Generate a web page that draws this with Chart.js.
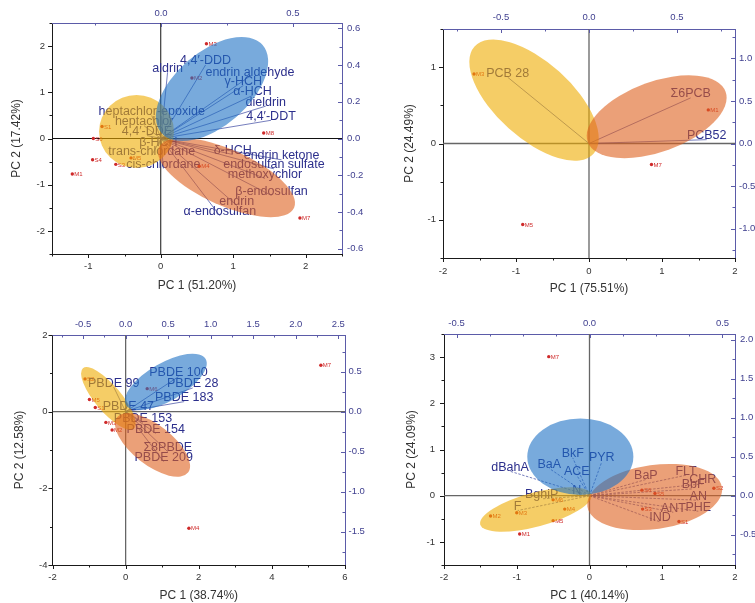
<!DOCTYPE html>
<html lang="en">
<head>
<meta charset="UTF-8">
<title>PCA biplots</title>
<script src="https://cdn.jsdelivr.net/npm/chart.js@4.4.0/dist/chart.umd.min.js"></script>
<style>
  html, body { margin: 0; padding: 0; background: #fff; width: 755px; height: 603px; overflow: hidden; }
  canvas { position: absolute; }
</style>
</head>
<body>
<canvas id="p1" width="378" height="300" style="left:0;top:0"></canvas>
<canvas id="p2" width="400" height="300" style="left:380px;top:0"></canvas>
<canvas id="p3" width="378" height="303" style="left:0;top:300px"></canvas>
<canvas id="p4" width="400" height="303" style="left:380px;top:300px"></canvas>
<script>
// ---------- panel 1 : OCPs ----------
const scoreNames1 = ['M1', 'M2', 'M3', 'M4', 'M5', 'M7', 'M8', 'S1', 'S3', 'S4', 'S6'];
const scoreX1 = [-1.22, 0.43, 0.63, 0.53, -0.41, 1.92, 1.42, -0.81, -0.62, -0.94, -0.93];
const scoreY1 = [-0.77, 1.31, 2.05, -0.60, -0.42, -1.72, 0.12, 0.26, -0.56, -0.46, 0.0];
const loadNames1 = ['aldrin', '4,4′-DDD', 'endrin aldehyde', 'γ-HCH', 'α-HCH', 'dieldrin', '4,4′-DDT',
  'heptachlor-epoxide', 'heptachlor', '4,4′-DDE', 'β-HCH', 'trans-chlordane', 'cis-chlordane',
  'δ-HCH', 'endrin ketone', 'endosulfan sulfate', 'methoxychlor', 'β-endosulfan', 'endrin', 'α-endosulfan'];
const loadX1 = [0.025, 0.169, 0.337, 0.312, 0.347, 0.397, 0.417, -0.035, -0.064, -0.053, -0.010, -0.035, 0.009,
  0.272, 0.457, 0.428, 0.394, 0.419, 0.287, 0.223];
const loadY1 = [0.360, 0.400, 0.339, 0.288, 0.234, 0.176, 0.099, 0.125, 0.069, 0.016, -0.042, -0.091, -0.163,
  -0.087, -0.116, -0.165, -0.217, -0.310, -0.364, -0.420];
// ellipses: [centre x, centre y, semi-axis a (dx, dy), semi-axis b (dx, dy)]
const ellYellow1 = [-0.334, 0.152, 0.517, 0, 0, 0.79];
const ellOrange1 = [0.907, -0.848, 0.932, -0.652, -0.157, -0.554];
const ellBlue1 = [0.707, 1.071, 0.698, 0.952, 0.335, -0.604];
const xTicks1 = [-1, 0, 1, 2];
const yTicks1 = [-2, -1, 0, 1, 2];
const topTicks1 = [0, 0.5];
const rightTicks1 = [-0.6, -0.4, -0.2, 0, 0.2, 0.4, 0.6];

// ---------- panel 2 : PCBs ----------
const scoreNames2 = ['M1', 'M3', 'M5', 'M7'];
const scoreX2 = [1.634, -1.575, -0.908, 0.856];
const scoreY2 = [0.44, 0.91, -1.062, -0.275];
const loadNames2 = ['PCB 28', 'Σ6PCB', 'PCB52'];
const loadX2 = [-0.462, 0.578, 0.669];
const loadY2 = [0.778, 0.536, 0.045];
const ellYellow2 = [-0.753, 0.569, 0.815, -0.702, -0.348, -0.37];
const ellOrange2 = [0.927, 0.35, 0.944, 0.329, 0.164, -0.432];
const xTicks2 = [-2, -1, 0, 1, 2];
const yTicks2 = [-1, 0, 1];
const topTicks2 = [-0.5, 0, 0.5];
const rightTicks2 = [-1.0, -0.5, 0, 0.5, 1.0];

// ---------- panel 3 : PBDEs ----------
const scoreNames3 = ['M7', 'M4', 'S2', 'M5', 'S1', 'M6', 'M3', 'M2'];
const scoreX3 = [5.34, 1.73, -1.11, -0.99, -0.83, 0.59, -0.54, -0.37];
const scoreY3 = [1.21, -3.04, 0.855, 0.318, 0.11, 0.60, -0.28, -0.48];
const loadNames3 = ['PBDE 100', 'PBDE 99', 'PBDE 28', 'PBDE 183', 'PBDE 47', 'PBDE 153', 'PBDE 154', 'Σ8PBDE', 'PBDE 209'];
const loadX3 = [0.621, -0.14, 0.788, 0.688, 0.032, 0.204, 0.354, 0.495, 0.447];
const loadY3 = [0.4375, 0.306, 0.296, 0.125, 0.019, -0.134, -0.273, -0.5, -0.625];
const ellYellow3 = [-0.473, 0.344, 0.695, -0.789, -0.274, -0.219];
const ellOrange3 = [0.736, -0.868, 0.971, -0.722, -0.336, -0.412];
const ellBlue3 = [1.10, 0.776, 1.089, 0.599, 0.26, -0.43];
const xTicks3 = [-2, 0, 2, 4, 6];
const yTicks3 = [-4, -2, 0, 2];
const topTicks3 = [-0.5, 0, 0.5, 1.0, 1.5, 2.0, 2.5];
const rightTicks3 = [-1.5, -1.0, -0.5, 0, 0.5];

// ---------- panel 4 : PAHs ----------
const scoreNames4 = ['M7', 'S2', 'S6', 'S5', 'S3', 'S1', 'M6', 'M4', 'M3', 'M2', 'M5', 'M1'];
const scoreX4 = [-0.56, 1.71, 0.72, 0.90, 0.73, 1.23, -0.50, -0.34, -1.0, -1.36, -0.50, -0.96];
const scoreY4 = [3.01, 0.16, 0.12, 0.05, -0.29, -0.56, -0.09, -0.29, -0.37, -0.44, -0.54, -0.83];
const loadNames4 = ['BkF', 'PYR', 'dBahA', 'BaA', 'ACE', 'N', 'BghiP', 'F',
  'BaP', 'FLT', 'CHR', 'BbF', 'AN', 'PHE', 'ANT', 'IND'];
const loadX4 = [-0.063, 0.046, -0.299, -0.151, -0.048, -0.048, -0.18, -0.27,
  0.212, 0.363, 0.426, 0.39, 0.409, 0.409, 0.315, 0.265];
const loadY4 = [0.486, 0.434, 0.314, 0.349, 0.263, 0.015, -0.04, -0.19,
  0.208, 0.263, 0.153, 0.088, -0.058, -0.199, -0.212, -0.335];
const ellYellow4 = [-0.738, -0.299, 0.764, 0.323, 0.06, -0.355];
const ellOrange4 = [0.896, -0.028, 0.925, 0.206, 0.062, -0.686];
const ellBlue4 = [-0.126, 0.844, 0.729, 0, 0, 0.829];
const xTicks4 = [-2, -1, 0, 1, 2];
const yTicks4 = [-1, 0, 1, 2, 3];
const topTicks4 = [-0.5, 0, 0.5];
const rightTicks4 = [-0.5, 0, 0.5, 1.0, 1.5, 2.0];

Chart.defaults.font.family = '"Liberation Sans", Arial, sans-serif';

const YELLOW = 'rgba(238,172,0,0.6)';
const ORANGE = 'rgba(222,97,30,0.6)';
const BLUE = 'rgba(30,113,197,0.6)';
const DARK = '#1a1a1a';
const PURPLE = '#5b5ba8';
const RED = '#cf2a2a';
const TEXTBLUE = '#2c2f8c';

const pts = (xs, ys) => xs.map((v, i) => ({ x: v, y: ys[i] }));

function axis(pos, min, max, ticks, fmt, side, pad, size, title) {
  const blue = side === 'blue';
  return {
    type: 'linear', position: pos, min: min, max: max, bounds: 'data',
    grid: { display: false, drawTicks: false, tickLength: 0 },
    border: { display: true, color: blue ? PURPLE : DARK, width: 1 },
    ticks: {
      color: blue ? '#3f3f8f' : '#333', font: { size: 9.5 }, padding: pad,
      autoSkip: false, maxRotation: 0, minRotation: 0, callback: fmt
    },
    afterBuildTicks: s => { s.ticks = ticks.map(v => ({ value: v })); },
    afterFit: s => { if (s.isHorizontal()) s.height = size; else s.width = size; },
    title: title || { display: false }
  };
}

function biplot(id, p) {
  const ellipse = (ctx, xs, ys, e, color) => {
    const cx = xs.getPixelForValue(e[0]), cy = ys.getPixelForValue(e[1]);
    const ux = xs.getPixelForValue(e[0] + e[2]) - cx, uy = ys.getPixelForValue(e[1] + e[3]) - cy;
    const vx = xs.getPixelForValue(e[0] + e[4]) - cx, vy = ys.getPixelForValue(e[1] + e[5]) - cy;
    ctx.save();
    ctx.transform(ux, uy, vx, vy, cx, cy);
    ctx.beginPath();
    ctx.arc(0, 0, 1, 0, Math.PI * 2);
    ctx.restore();
    ctx.fillStyle = color;
    ctx.fill();
  };

  const plugin = {
    id: 'biplot',
    beforeDatasetsDraw(chart) {
      const { ctx, chartArea: a, scales } = chart;
      const { x, y, x2, y2 } = scales;
      ctx.save();
      ctx.beginPath();
      ctx.rect(a.left, a.top, a.right - a.left, a.bottom - a.top);
      ctx.clip();
      ctx.strokeStyle = p.zeroColor;
      ctx.lineWidth = p.zeroWidth;
      ctx.beginPath();
      ctx.moveTo(x.getPixelForValue(0), a.top);
      ctx.lineTo(x.getPixelForValue(0), a.bottom);
      ctx.moveTo(a.left, y.getPixelForValue(0));
      ctx.lineTo(a.right, y.getPixelForValue(0));
      ctx.stroke();
      const ox = x2.getPixelForValue(0), oy = y2.getPixelForValue(0);
      ctx.strokeStyle = '#3b46a0';
      ctx.lineWidth = 0.7;
      ctx.setLineDash(p.dash || []);
      chart.getDatasetMeta(1).data.forEach(pt => {
        ctx.beginPath();
        ctx.moveTo(ox, oy);
        ctx.lineTo(pt.x, pt.y);
        ctx.stroke();
      });
      ctx.restore();

      ctx.save();
      ctx.fillStyle = TEXTBLUE;
      ctx.font = '12.5px "Liberation Sans", Arial, sans-serif';
      ctx.textAlign = 'center';
      ctx.textBaseline = 'alphabetic';
      chart.getDatasetMeta(1).data.forEach((pt, i) => ctx.fillText(p.loadNames[i], pt.x, pt.y - 0.5));
      ctx.fillStyle = RED;
      ctx.font = '6px "Liberation Sans", Arial, sans-serif';
      ctx.textAlign = 'left';
      ctx.textBaseline = 'middle';
      chart.getDatasetMeta(0).data.forEach((pt, i) => ctx.fillText(p.scoreNames[i], pt.x + 2, pt.y + 0.5));
      ctx.restore();
    },
    afterDatasetsDraw(chart) {
      const { ctx, chartArea: a, scales } = chart;
      ctx.save();
      ctx.beginPath();
      ctx.rect(a.left, a.top, a.right - a.left, a.bottom - a.top);
      ctx.clip();
      p.ellipses.forEach((e, i) => ellipse(ctx, scales.x, scales.y, e, p.ellColors[i]));
      ctx.restore();
    },
    afterDraw(chart) {
      const { ctx, chartArea: a, scales } = chart;
      ctx.save();
      ctx.lineWidth = 1;
      [['x', DARK], ['y', DARK], ['x2', PURPLE], ['y2', PURPLE]].forEach(([k, col]) => {
        const s = scales[k];
        const t = s.ticks.map(o => o.value);
        const step = t[1] - t[0];
        const sub = (p.sub && p.sub[k]) || 2;
        const ms = step / sub;
        const start = Math.ceil((s.min - 1e-9) / ms), end = Math.floor((s.max + 1e-9) / ms);
        ctx.strokeStyle = col;
        for (let n = start; n <= end; n++) {
          const v = n * ms;
          const major = Math.abs(Math.round(n / sub) * sub - n) < 1e-6;
          const len = major ? 4 : 2.5;
          const px = Math.round(s.getPixelForValue(v)) + 0.5;
          ctx.beginPath();
          if (k === 'x') { ctx.moveTo(px, a.bottom); ctx.lineTo(px, a.bottom + len); }
          if (k === 'x2') { ctx.moveTo(px, a.top); ctx.lineTo(px, a.top + len); }
          if (k === 'y') { ctx.moveTo(a.left, px); ctx.lineTo(a.left - len, px); }
          if (k === 'y2') { ctx.moveTo(a.right, px); ctx.lineTo(a.right - len, px); }
          ctx.stroke();
        }
      });
      ctx.restore();
    }
  };

  const L = p.layout;
  const intFmt = v => String(v);
  const decFmt = v => Number(v).toFixed(1);
  const titleOpt = (text, padding) => ({ display: true, text: text, color: '#333', font: { size: 12 }, padding: padding });

  return new Chart(document.getElementById(id), {
    type: 'scatter',
    data: {
      datasets: [
        { data: pts(p.scoreX, p.scoreY), xAxisID: 'x', yAxisID: 'y', pointRadius: 1.7,
          pointBackgroundColor: RED, pointBorderWidth: 0, pointHoverRadius: 1.7 },
        { data: pts(p.loadX, p.loadY), xAxisID: 'x2', yAxisID: 'y2', pointRadius: 0, pointHoverRadius: 0 }
      ]
    },
    options: {
      responsive: false, animation: false, events: [],
      layout: { padding: 0 },
      plugins: { legend: { display: false }, tooltip: { enabled: false } },
      scales: {
        x: axis('bottom', p.xRange[0], p.xRange[1], p.xTicks, intFmt, 'dark', L.padB, L.bottom,
          titleOpt(p.xTitle, { top: 0, bottom: L.titleB })),
        y: axis('left', p.yRange[0], p.yRange[1], p.yTicks, intFmt, 'dark', L.padL, L.left,
          titleOpt(p.yTitle, { top: L.titleL, bottom: 0 })),
        x2: axis('top', p.topRange[0], p.topRange[1], p.topTicks, decFmt, 'blue', L.padT, L.top),
        y2: axis('right', p.rightRange[0], p.rightRange[1], p.rightTicks, decFmt, 'blue', L.padR, L.right)
      }
    },
    plugins: [plugin]
  });
}

biplot('p1', {
  scoreNames: scoreNames1, scoreX: scoreX1, scoreY: scoreY1,
  loadNames: loadNames1, loadX: loadX1, loadY: loadY1,
  ellipses: [ellYellow1, ellOrange1, ellBlue1], ellColors: [YELLOW, ORANGE, BLUE],
  xTicks: xTicks1, yTicks: yTicks1, topTicks: topTicks1, rightTicks: rightTicks1,
  xRange: [-1.5, 2.5], yRange: [-2.5, 2.5], topRange: [-0.413, 0.686], rightRange: [-0.628, 0.628],
  xTitle: 'PC 1 (51.20%)', yTitle: 'PC 2 (17.42%)',
  zeroColor: '#111', zeroWidth: 1,
  layout: { left: 52, right: 36, top: 23, bottom: 46, padL: 7, padB: 7, padT: 4, padR: 5, titleL: 9, titleB: 7 }
});

biplot('p2', {
  scoreNames: scoreNames2, scoreX: scoreX2, scoreY: scoreY2,
  loadNames: loadNames2, loadX: loadX2, loadY: loadY2,
  ellipses: [ellYellow2, ellOrange2], ellColors: [YELLOW, ORANGE],
  xTicks: xTicks2, yTicks: yTicks2, topTicks: topTicks2, rightTicks: rightTicks2,
  xRange: [-2, 2], yRange: [-1.5, 1.5], topRange: [-0.83, 0.83], rightRange: [-1.345, 1.345],
  xTitle: 'PC 1 (75.51%)', yTitle: 'PC 2 (24.49%)',
  zeroColor: '#666', zeroWidth: 1.3,
  layout: { left: 63, right: 45, top: 29, bottom: 42, padL: 7, padB: 8, padT: 6, padR: 4, titleL: 22, titleB: 4 }
});

biplot('p3', {
  scoreNames: scoreNames3, scoreX: scoreX3, scoreY: scoreY3,
  loadNames: loadNames3, loadX: loadX3, loadY: loadY3,
  ellipses: [ellYellow3, ellOrange3, ellBlue3], ellColors: [YELLOW, ORANGE, BLUE],
  xTicks: xTicks3, yTicks: yTicks3, topTicks: topTicks3, rightTicks: rightTicks3,
  xRange: [-2, 6], yRange: [-4, 2], topRange: [-0.86, 2.579], rightRange: [-1.917, 0.958],
  xTitle: 'PC 1 (38.74%)', yTitle: 'PC 2 (12.58%)',
  zeroColor: '#666', zeroWidth: 1.3,
  layout: { left: 52.5, right: 33, top: 35, bottom: 38, padL: 5, padB: 7, padT: 5, padR: 3.5, titleL: 12, titleB: 0 }
});

biplot('p4', {
  scoreNames: scoreNames4, scoreX: scoreX4, scoreY: scoreY4,
  loadNames: loadNames4, loadX: loadX4, loadY: loadY4,
  ellipses: [ellYellow4, ellOrange4, ellBlue4], ellColors: [YELLOW, ORANGE, BLUE],
  xTicks: xTicks4, yTicks: yTicks4, topTicks: topTicks4, rightTicks: rightTicks4,
  xRange: [-2, 2], yRange: [-1.5, 3.5], topRange: [-0.547, 0.547], rightRange: [-0.888, 2.073],
  xTitle: 'PC 1 (40.14%)', yTitle: 'PC 2 (24.09%)',
  zeroColor: '#666', zeroWidth: 1.3, dash: [2.5, 1.5], sub: { x2: 4 },
  layout: { left: 64, right: 45, top: 34, bottom: 38, padL: 9, padB: 7, padT: 4.5, padR: 5, titleL: 24, titleB: 0 }
});
</script>
</body>
</html>
